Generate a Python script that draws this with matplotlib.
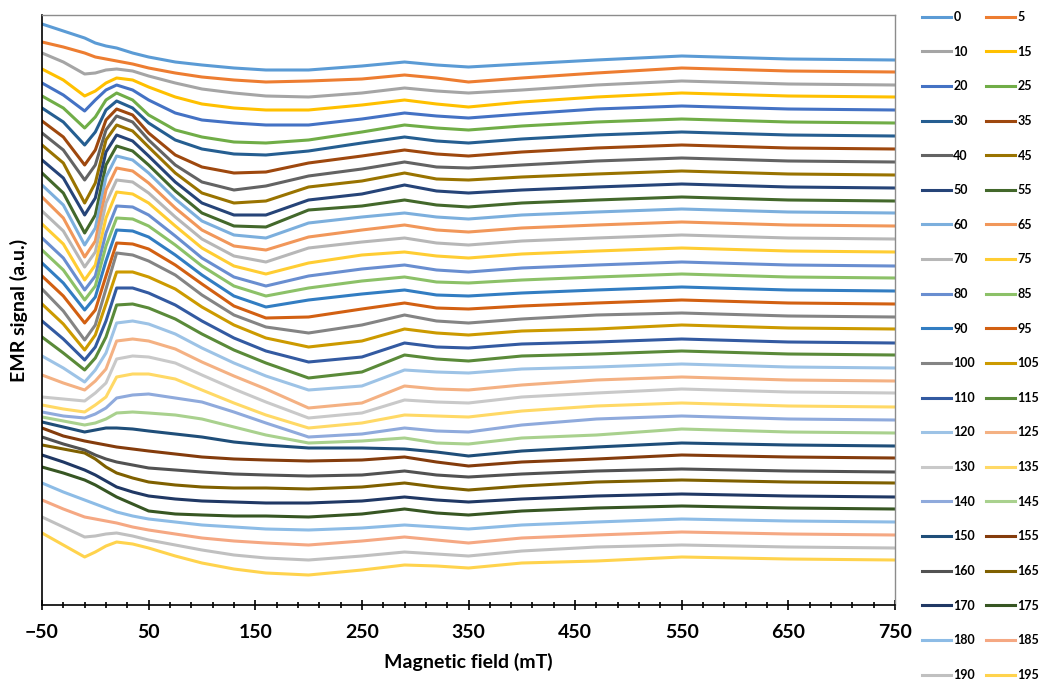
import matplotlib
matplotlib.use('Agg')
import matplotlib.pyplot as plt
import numpy as np

plt.rcParams['font.family'] = ['Lato', 'DejaVu Sans']
plt.rcParams['font.weight'] = 'bold'

# magnetic field sample points (mT)
field = [-50, -30, -10, 0, 10, 20, 35, 50, 75, 100, 130, 160,
         200, 250, 290, 320, 350, 400, 470, 550, 650, 750]

temps = list(range(0, 200, 5))

# vertical stacking offset of each spectrum (a.u.)
offsets = [545, 533, 520, 508, 495, 482, 469, 456, 443, 430,
           417, 404, 392, 379, 366, 353, 339, 327, 314, 301,
           288, 276, 262, 250, 237, 224, 212, 198, 185, 172,
           159, 147, 133, 122, 108, 96, 83, 70, 57, 45]

# EMR spectra relative to their offset (a.u.)
t000 = [36, 29, 22, 17, 14, 12, 7, 3, -2, -5, -8, -10, -10, -6, -2, -5, -7, -4, 0, 4, 1, 0]
t005 = [30, 25, 19, 15, 13, 11, 8, 4, -1, -5, -8, -10, -9, -7, -3, -6, -10, -6, -1, 4, 1, 0]
t010 = [32, 23, 11, 12, 15, 16, 14, 9, 2, -4, -8, -11, -12, -8, -3, -6, -8, -5, 0, 4, 1, 0]
t015 = [28, 17, 1, 6, 14, 19, 17, 10, 0, -7, -11, -13, -13, -8, -3, -7, -10, -5, 0, 4, 1, 0]
t020 = [27, 15, -1, 10, 20, 25, 20, 10, -3, -10, -13, -15, -15, -9, -3, -6, -8, -4, 1, 4, 1, 0]
t025 = [27, 15, -5, 6, 23, 30, 23, 8, -7, -14, -19, -20, -17, -9, -2, -5, -7, -3, 1, 4, 1, 0]
t030 = [28, 14, -9, 4, 26, 35, 28, 13, -4, -13, -18, -19, -15, -7, -1, -5, -7, -3, 1, 4, 1, 0]
t035 = [28, 12, -16, -1, 29, 40, 34, 16, -6, -18, -24, -23, -14, -7, -1, -5, -7, -3, 1, 4, 1, 0]
t040 = [29, 12, -18, -3, 32, 46, 40, 22, -3, -20, -28, -24, -14, -7, 0, -5, -6, -3, 1, 4, 1, 0]
t045 = [30, 12, -28, -8, 35, 50, 44, 28, 2, -18, -28, -26, -12, -6, 2, -4, -5, -2, 1, 4, 1, 0]
t050 = [28, 10, -27, -10, 36, 53, 47, 32, 6, -15, -27, -27, -12, -6, 3, -3, -5, -2, 1, 4, 1, 0]
t055 = [28, 8, -32, -14, 36, 55, 50, 36, 10, -12, -25, -26, -9, -5, 1, -4, -6, -2, 1, 4, 1, 0]
t060 = [28, 8, -32, -15, 36, 57, 53, 40, 14, -8, -22, -25, -10, -4, 0, -4, -6, -2, 1, 4, 1, 0]
t065 = [29, 8, -31, -15, 36, 58, 55, 43, 18, -4, -20, -24, -11, -4, 1, -4, -6, -2, 1, 4, 1, 0]
t070 = [28, 8, -28, -13, 36, 59, 57, 46, 22, 0, -17, -23, -9, -3, 1, -4, -6, -2, 1, 4, 1, 0]
t075 = [28, 8, -28, -13, 34, 60, 58, 49, 26, 4, -14, -22, -11, -3, 0, -4, -6, -2, 1, 4, 1, 0]
t080 = [28, 8, -24, -10, 33, 60, 59, 51, 30, 8, -11, -20, -10, -3, 1, -4, -6, -2, 1, 4, 1, 0]
t085 = [28, 8, -22, -8, 32, 60, 59, 52, 33, 12, -8, -18, -10, -3, 1, -4, -5, -2, 1, 4, 1, 0]
t090 = [28, 8, -19, -6, 30, 61, 60, 54, 36, 16, -5, -16, -9, -3, 1, -4, -5, -2, 1, 4, 1, 0]
t095 = [28, 8, -19, -6, 28, 61, 60, 55, 39, 20, -2, -14, -13, -5, 1, -4, -5, -2, 1, 4, 1, 0]
t100 = [28, 6, -23, -8, 28, 64, 62, 56, 42, 22, 2, -10, -16, -8, 2, -4, -6, -2, 2, 4, 1, 0]
t105 = [25, 5, -21, -6, 25, 57, 57, 52, 40, 22, 4, -9, -18, -12, 0, -4, -6, -2, 0, 4, 1, 0]
t110 = [22, 4, -17, -4, 22, 55, 55, 50, 38, 22, 5, -8, -19, -14, 0, -4, -5, -1, 1, 4, 1, 0]
t115 = [18, 2, -15, -3, 18, 50, 51, 47, 36, 21, 5, -8, -23, -17, 0, -4, -6, -1, 1, 4, 1, 0]
t120 = [12, 0, -14, -2, 15, 45, 47, 44, 34, 20, 5, -8, -22, -18, -2, -4, -5, -1, 1, 4, 1, 0]
t125 = [6, -2, -9, 0, 12, 40, 42, 40, 32, 19, 5, -8, -27, -22, -5, -8, -9, -4, 1, 4, 1, 0]
t130 = [-4, -6, -8, 0, 10, 34, 37, 36, 30, 18, 4, -9, -25, -20, -7, -9, -10, -4, 0, 4, 1, 0]
t135 = [2, -2, -5, 2, 10, 30, 33, 33, 28, 17, 4, -8, -21, -16, -8, -9, -10, -4, 1, 4, 1, 0]
t140 = [8, 4, 2, 6, 12, 22, 25, 26, 22, 18, 8, -3, -17, -14, -8, -11, -12, -5, 1, 4, 1, 0]
t145 = [16, 12, 8, 10, 14, 20, 21, 20, 18, 14, 6, -2, -10, -8, -5, -10, -11, -5, -2, 4, 1, 0]
t150 = [24, 19, 14, 16, 18, 18, 17, 15, 12, 9, 4, 1, -2, -2, -3, -6, -10, -5, -1, 3, 1, 0]
t155 = [30, 22, 17, 15, 13, 11, 9, 7, 4, 1, -1, -2, -3, -2, 1, -4, -8, -4, -1, 3, 1, 0]
t160 = [35, 28, 22, 17, 13, 10, 7, 4, 2, 0, -2, -3, -4, -3, 1, -3, -5, -2, 1, 3, 1, 0]
t165 = [38, 34, 30, 24, 16, 10, 5, 1, -2, -4, -5, -5, -6, -4, 0, -4, -7, -3, 1, 3, 1, 0]
t170 = [42, 35, 27, 22, 16, 10, 5, 1, -2, -4, -5, -6, -6, -4, 0, -3, -5, -2, 1, 3, 1, 0]
t175 = [42, 36, 29, 24, 18, 12, 5, -2, -5, -6, -7, -7, -8, -5, 0, -4, -6, -2, 1, 3, 1, 0]
t180 = [39, 30, 22, 18, 14, 10, 6, 3, 0, -3, -5, -7, -8, -6, -3, -5, -7, -3, 0, 3, 1, 0]
t185 = [35, 26, 18, 16, 14, 12, 8, 5, 1, -3, -6, -8, -10, -6, -2, -5, -8, -3, 0, 3, 1, 0]
t190 = [31, 21, 11, 12, 14, 15, 12, 8, 3, -2, -7, -10, -12, -8, -4, -6, -8, -3, 1, 3, 1, 0]
t195 = [27, 15, 3, 8, 14, 18, 16, 12, 4, -3, -9, -13, -15, -10, -5, -6, -8, -3, -1, 3, 1, 0]

spectra = [t000, t005, t010, t015, t020, t025, t030, t035, t040, t045,
           t050, t055, t060, t065, t070, t075, t080, t085, t090, t095,
           t100, t105, t110, t115, t120, t125, t130, t135, t140, t145,
           t150, t155, t160, t165, t170, t175, t180, t185, t190, t195]

colors = ['#5B9BD5', '#ED7D31', '#A5A5A5', '#FFC000', '#4472C4', '#70AD47',
          '#255E91', '#9E480E', '#636363', '#997300', '#264478', '#43682B',
          '#7CAFDD', '#F1975A', '#B7B7B7', '#FFCD33', '#698ED0', '#8CC168',
          '#327DC2', '#D26012', '#848484', '#CC9A00', '#335AA1', '#5A8A39',
          '#9DC3E6', '#F4B183', '#C9C9C9', '#FFD966', '#8FAADC', '#A9D18E',
          '#1F4E79', '#843C0C', '#525252', '#7F6000', '#203864', '#375623',
          '#8DBCE6', '#F5A883', '#C0C0C0', '#FFD34D']

fig = plt.figure(figsize=(10.42, 6.82), dpi=100)
ax = fig.add_axes([42 / 1042, 1 - 605 / 682, 853 / 1042, 590 / 682])

lines = []
for temp, off, spec, col in zip(temps, offsets, spectra, colors):
    ln, = ax.plot(field, off + np.array(spec), color=col, lw=2.2,
                  label=str(temp), solid_joinstyle='round')
    lines.append(ln)

ax.set_xlim(-50, 750)
ax.set_ylim(0, 590)
ax.set_yticks([])
ax.set_xticks(np.arange(-50, 751, 100))
ax.set_xticks(np.arange(-50, 751, 20), minor=True)
ax.tick_params(axis='x', which='major', direction='inout', length=7,
               width=1.2, labelsize=14, pad=10)
ax.tick_params(axis='x', which='minor', direction='inout', length=4, width=1.2)

for side in ('left', 'bottom'):
    ax.spines[side].set_color('black')
    ax.spines[side].set_linewidth(1.2)
for side in ('top', 'right'):
    ax.spines[side].set_color('#8c8c8c')
    ax.spines[side].set_linewidth(1.0)

ax.set_xlabel('Magnetic field (mT)', fontsize=14, fontweight='bold', labelpad=9)
ax.set_ylabel('EMR signal (a.u.)', fontsize=14, fontweight='bold')
ax.yaxis.set_label_coords(-0.016, 0.5)

# legend laid out row by row: 0 | 5, 10 | 15, ...
order = list(range(0, 40, 2)) + list(range(1, 40, 2))
fig.legend([lines[i] for i in order], [lines[i].get_label() for i in order],
           ncol=2, loc='upper left', bbox_to_anchor=(922 / 1042, 1 - 11 / 682),
           frameon=False, fontsize=9, handlelength=2.3, handletextpad=0.2,
           columnspacing=0.9, labelspacing=1.81, borderpad=0, borderaxespad=0)

fig.savefig('out.png', dpi=100)
